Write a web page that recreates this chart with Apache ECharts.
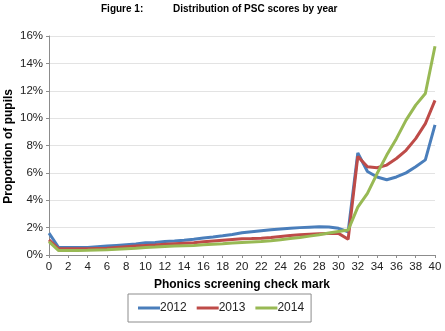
<!DOCTYPE html>
<html>
<head>
<meta charset="utf-8">
<script src="https://cdn.jsdelivr.net/npm/echarts@6/dist/echarts.min.js"></script>
<style>
  html, body { margin: 0; padding: 0; background: #fff; }
  #main { width: 445px; height: 331px; }
</style>
</head>
<body>
<div id="main"></div>
<script>
// marks 0..40
var marks = [];
for (var i = 0; i <= 40; i++) marks.push(i);

var years = ['2012', '2013', '2014'];

// proportion of pupils (%) at each mark
var psc2012 = [1.6, 0.55, 0.55, 0.55, 0.55, 0.6, 0.65, 0.7, 0.75, 0.8, 0.9,
  0.92, 0.98, 1.02, 1.08, 1.15, 1.25, 1.32, 1.4, 1.5, 1.62,
  1.7, 1.78, 1.84, 1.9, 1.96, 2.0, 2.03, 2.06, 2.05, 1.95,
  1.7, 7.45, 6.1, 5.7, 5.5, 5.7, 6.0, 6.45, 6.95, 9.5];
var psc2013 = [1.1, 0.45, 0.45, 0.45, 0.45, 0.48, 0.5, 0.55, 0.6, 0.65, 0.7,
  0.73, 0.78, 0.82, 0.86, 0.9, 0.96, 1.02, 1.08, 1.13, 1.18,
  1.2, 1.23, 1.28, 1.35, 1.42, 1.48, 1.52, 1.55, 1.57, 1.58,
  1.15, 7.2, 6.45, 6.37, 6.57, 7.05, 7.65, 8.5, 9.6, 11.3];
var psc2014 = [0.97, 0.32, 0.32, 0.33, 0.34, 0.36, 0.38, 0.42, 0.46, 0.5, 0.55,
  0.58, 0.62, 0.65, 0.68, 0.7, 0.74, 0.78, 0.82, 0.87, 0.92,
  0.95, 0.98, 1.04, 1.12, 1.2, 1.28, 1.38, 1.48, 1.6, 1.72,
  1.82, 3.5, 4.5, 5.95, 7.3, 8.5, 9.85, 10.95, 11.8, 15.25];

var yTicks = [0, 2, 4, 6, 8, 10, 12, 14, 16];

var colors = ['#4a7ebb', '#be4b48', '#98b954'];
var font = '"Liberation Sans", Arial, sans-serif';

function pairs(vals) {
  return marks.map(function (m, i) { return [m, vals[i]]; });
}

var myChart = echarts.init(document.getElementById('main'));
var option = {
  animation: false,
  color: colors,
  textStyle: { fontFamily: font },
  grid: { left: 49, right: 10, top: 36, bottom: 76 },
  graphic: [
    { type: 'text', left: 101, top: 4,
      style: { text: 'Figure 1:', font: 'bold 10px ' + font, fill: '#000' } },
    { type: 'text', left: 173, top: 4,
      style: { text: 'Distribution of PSC scores by year', font: 'bold 10px ' + font, fill: '#000' } },
    { type: 'text', left: 3, top: 89, rotation: Math.PI / 2,
      style: { text: 'Proportion of pupils', font: 'bold 12px ' + font, fill: '#000' } }
  ],
  xAxis: {
    type: 'value', min: 0, max: 40, interval: 2,
    name: 'Phonics screening check mark',
    nameLocation: 'middle', nameGap: 24,
    nameTextStyle: { fontWeight: 'bold', fontSize: 12, color: '#000', fontFamily: font },
    axisLine: { lineStyle: { color: '#8c8c8c' } },
    axisTick: { show: true, length: 3, lineStyle: { color: '#8c8c8c' } },
    axisLabel: { fontSize: 11.5, color: '#222', margin: 6 },
    splitLine: { show: false }
  },
  yAxis: {
    type: 'value', min: yTicks[0], max: yTicks[yTicks.length - 1], interval: 2,
    axisLine: { show: true, lineStyle: { color: '#8c8c8c' } },
    axisTick: { show: true, length: 3, lineStyle: { color: '#8c8c8c' } },
    axisLabel: { fontSize: 11.5, color: '#222', margin: 6, formatter: '{value}%' },
    splitLine: { lineStyle: { color: '#e3e3e3' } }
  },
  legend: {
    left: 128, top: 294,
    data: years,
    icon: 'rect', itemWidth: 22, itemHeight: 3, itemGap: 10,
    borderColor: '#8c8c8c', borderWidth: 1, borderRadius: 0,
    padding: [8, 7, 8, 10],
    textStyle: { fontSize: 12, color: '#222', padding: [0, 0, 0, -5] }
  },
  series: [
    { name: years[0], type: 'line', data: pairs(psc2012), showSymbol: false, lineStyle: { width: 3 } },
    { name: years[1], type: 'line', data: pairs(psc2013), showSymbol: false, lineStyle: { width: 3 } },
    { name: years[2], type: 'line', data: pairs(psc2014), showSymbol: false, lineStyle: { width: 3 } }
  ]
};
myChart.setOption(option);
</script>
</body>
</html>
